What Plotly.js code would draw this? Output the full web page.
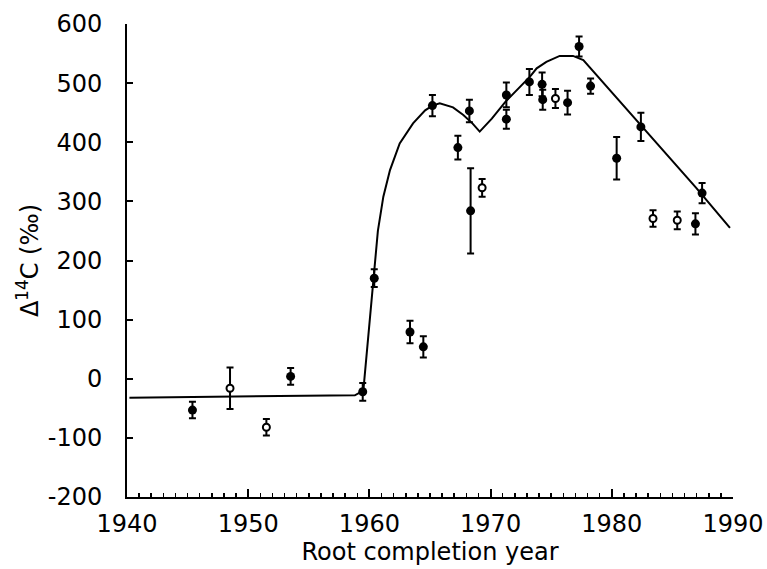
<!DOCTYPE html>
<html>
<head>
<meta charset="utf-8">
<script src="https://cdn.plot.ly/plotly-3.0.1.min.js"></script>
<style>html,body{margin:0;padding:0;background:#fff;}#chart{width:767px;height:569px;}</style>
</head>
<body>
<div id="chart"></div>
<script>
// Fitted curve
const curveYears = [1940.2, 1945, 1950, 1955, 1958.8, 1959.5, 1960.0, 1960.3, 1960.5, 1960.7, 1961.15, 1961.7, 1962.5, 1963.6, 1964.6, 1965.2, 1965.8, 1966.9, 1967.75, 1968.5, 1969.1, 1970.1, 1971.2, 1972.15, 1973.25, 1973.8, 1974.6, 1975.7, 1976.8, 1977.65, 1981.8, 1987, 1989.75];
const curveVals  = [-32, -31, -30, -29, -28, -20, 90, 167, 200, 250, 308, 353, 398, 432, 454, 462, 466, 459, 446, 432, 418, 440, 468, 488, 511, 525, 536, 546, 546, 539, 443, 322, 255];

// Filled-circle measurements
const filledYears = [1945.4, 1953.5, 1959.45, 1960.4, 1963.35, 1964.45, 1965.2, 1967.3, 1968.25, 1968.35, 1971.3, 1971.3, 1973.2, 1974.25, 1974.3, 1976.35, 1977.3, 1978.25, 1980.4, 1982.4, 1986.9, 1987.45];
const filledVals  = [-53, 4, -22, 170, 79, 54, 462, 391, 453, 284, 480, 439, 502, 498, 472, 467, 562, 495, 373, 426, 262, 314];
const filledErr   = [14, 14, 15, 15, 19, 18, 18, 20, 19, 72, 21, 16, 22, 20, 17, 20, 17, 13, 36, 24, 18, 17];

// Open-circle measurements
const openYears = [1948.5, 1951.5, 1969.3, 1975.35, 1983.4, 1985.4];
const openVals  = [-16, -82, 323, 474, 271, 268];
const openErr   = [35, 14, 15, 16, 14, 15];

const xTicks = [1940, 1950, 1960, 1970, 1980, 1990];
const yTicks = [-200, -100, 0, 100, 200, 300, 400, 500, 600];

const errStyle = (arr) => ({type: 'data', array: arr, visible: true, color: '#000', thickness: 2, width: 3.5});

const traces = [
  {x: curveYears, y: curveVals, mode: 'lines', type: 'scatter',
   line: {color: '#000', width: 2}, hoverinfo: 'skip', showlegend: false},
  {x: filledYears, y: filledVals, mode: 'markers', type: 'scatter',
   error_y: errStyle(filledErr),
   marker: {symbol: 'circle', size: 9, color: '#000'}, showlegend: false},
  {x: openYears, y: openVals, mode: 'markers', type: 'scatter',
   error_y: errStyle(openErr),
   marker: {symbol: 'circle', size: 7, color: '#fff', line: {color: '#000', width: 2}}, showlegend: false}
];

const font = {family: 'DejaVu Sans, sans-serif', size: 24, color: '#000'};

const layout = {
  width: 767, height: 569,
  margin: {l: 127, r: 34, t: 24, b: 72},
  paper_bgcolor: '#fff', plot_bgcolor: '#fff',
  font: font,
  showlegend: false,
  xaxis: {
    range: [1940, 1990],
    tickvals: xTicks, ticktext: xTicks.map(String),
    ticks: 'inside', ticklen: 8, tickwidth: 2, tickcolor: '#000',
    minor: {dtick: 1, tick0: 1940, ticks: 'inside', ticklen: 4, tickwidth: 1.5, tickcolor: '#000', showgrid: false},
    showline: true, linecolor: '#000', linewidth: 2, mirror: false,
    showgrid: false, zeroline: false,
    ticklabelstandoff: 4,
    tickfont: font,
    title: {text: 'Root completion year', font: font, standoff: 4}
  },
  yaxis: {
    range: [-200, 600],
    tickvals: yTicks, ticktext: yTicks.map(String),
    ticks: 'inside', ticklen: 6, tickwidth: 2, tickcolor: '#000',
    showline: true, linecolor: '#000', linewidth: 2, mirror: false,
    showgrid: false, zeroline: false,
    ticklabelstandoff: 18,
    tickfont: font,
    title: {text: 'Δ<sup>14</sup>C (‰)', font: font, standoff: 2}
  }
};

Plotly.newPlot('chart', traces, layout, {displayModeBar: false, staticPlot: true});
</script>
</body>
</html>
